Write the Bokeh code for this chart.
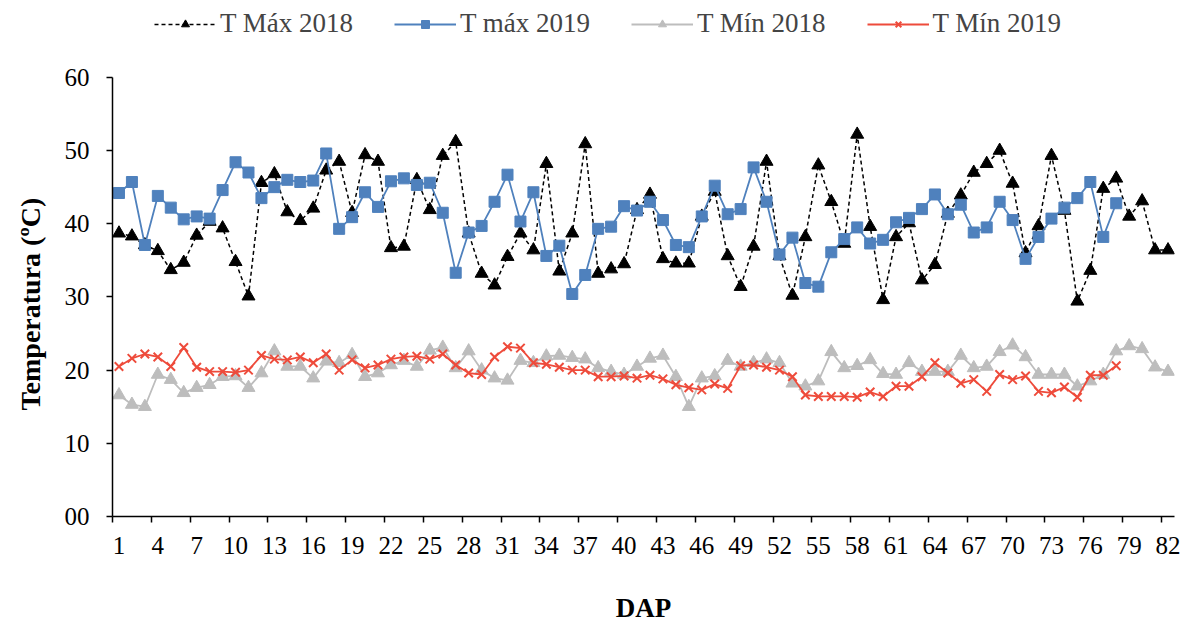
from bokeh.plotting import figure
from bokeh.models import Range1d, FixedTicker, Legend, LegendItem, Title
from bokeh.embed import file_html
from bokeh.resources import INLINE

# Days after planting (DAP)
dap = list(range(1, 83))

# Daily temperatures (ºC)
t_max_2018 = [
    38.7, 38.3, 37.1, 36.3, 33.7, 34.7, 38.4, 40.3, 39.4, 34.8,
    30.1, 45.6, 46.8, 41.6, 40.4, 42.1, 47.3, 48.5, 41.5, 49.4,
    48.5, 36.7, 36.9, 46.0, 41.9, 49.3, 51.2, 38.7, 33.2, 31.6,
    35.5, 38.7, 36.4, 48.2, 33.5, 38.7, 50.9, 33.2, 33.8, 34.5,
    41.9, 44.0, 35.2, 34.6, 34.6, 41.0, 44.4, 35.6, 31.4, 36.9,
    48.5, 35.6, 30.2, 38.2, 48.0, 43.0, 37.3, 52.2, 39.6, 29.6,
    38.2, 40.1, 32.3, 34.4, 41.4, 43.9, 47.0, 48.2, 50.0, 45.5,
    36.0, 39.7, 49.3, 41.8, 29.4, 33.6, 44.8, 46.2, 41.0, 43.1,
    36.4, 36.4,
]
t_max_2019 = [
    44.2, 45.7, 37.1, 43.8, 42.2, 40.6, 41.0, 40.7, 44.6, 48.4,
    47.0, 43.5, 45.0, 46.0, 45.7, 45.9, 49.6, 39.3, 40.9, 44.3,
    42.3, 45.8, 46.2, 45.3, 45.6, 41.5, 33.3, 38.8, 39.7, 43.0,
    46.7, 40.3, 44.3, 35.6, 37.0, 30.4, 33.0, 39.3, 39.6, 42.4,
    41.8, 43.0, 40.5, 37.1, 36.8, 41.0, 45.2, 41.3, 42.0, 47.7,
    43.0, 35.8, 38.1, 31.9, 31.4, 36.1, 37.9, 39.5, 37.3, 37.8,
    40.2, 40.8, 42.0, 44.0, 41.3, 42.6, 38.8, 39.5, 43.0, 40.5,
    35.2, 38.2, 40.7, 42.2, 43.5, 45.7, 38.2, 42.8,
]
t_min_2018 = [
    16.6, 15.3, 15.0, 19.4, 18.7, 16.9, 17.6, 18.0, 19.1, 19.2,
    17.6, 19.6, 22.6, 20.5, 20.5, 18.9, 21.2, 21.0, 22.1, 19.1,
    19.6, 20.7, 21.3, 20.5, 22.7, 23.1, 20.3, 22.6, 20.0, 18.9,
    18.6, 21.3, 21.0, 21.9, 22.0, 21.7, 21.5, 20.3, 19.8, 19.4,
    20.5, 21.6, 22.0, 19.1, 15.0, 18.9, 19.2, 21.3, 20.5, 21.0,
    21.5, 21.0, 18.2, 17.8, 18.5, 22.5, 20.3, 20.6, 21.4, 19.5,
    19.4, 21.0, 19.8, 19.8, 19.8, 22.0, 20.3, 20.5, 22.5, 23.4,
    21.8, 19.4, 19.4, 19.4, 17.8, 18.5, 19.4, 22.6, 23.3, 22.9,
    20.4, 19.8,
]
t_min_2019 = [
    20.5, 21.6, 22.2, 21.8, 20.5, 23.1, 20.4, 19.8, 19.8, 19.7,
    20.0, 22.0, 21.5, 21.4, 21.8, 21.0, 22.2, 20.0, 21.4, 20.3,
    20.7, 21.5, 21.8, 21.9, 21.5, 22.2, 20.7, 19.6, 19.4, 21.8,
    23.2, 23.0, 21.0, 20.8, 20.4, 20.0, 20.0, 19.1, 19.1, 19.2,
    18.9, 19.3, 18.8, 18.0, 17.6, 17.3, 18.1, 17.5, 20.6, 20.7,
    20.4, 20.0, 19.1, 16.6, 16.4, 16.4, 16.4, 16.3, 17.0, 16.4,
    17.8, 17.8, 19.1, 21.0, 19.6, 18.2, 18.7, 17.1, 19.4, 18.7,
    19.2, 17.1, 16.9, 17.7, 16.3, 19.3, 19.3, 20.6,
]

y_ticks = [0, 10, 20, 30, 40, 50, 60]
x_tick_days = dap[::3]

FONT = "Liberation Serif"
BLUE = "#4F81BD"
GRAY = "#BDBDBD"
RED = "#EE4B3B"

W, H = 1183, 625
FRAME_BOTTOM = 108          # space for the DAP axis
AXIS_TOP_PX = 77            # screen y of the 60 ºC tick
frame_h = H - FRAME_BOTTOM
y_top = y_ticks[-1] * frame_h / (frame_h - AXIS_TOP_PX)   # headroom for the legend row

p = figure(
    width=W, height=H,
    output_backend="svg", toolbar_location=None,
    x_range=Range1d(0.5, len(dap) + 0.5), y_range=Range1d(0, y_top),
    min_border_left=111, min_border_right=9,
    min_border_top=0, min_border_bottom=FRAME_BOTTOM,
)
p.outline_line_color = None
p.xgrid.visible = False
p.ygrid.visible = False
p.background_fill_color = "white"
p.border_fill_color = "white"

n19 = len(t_max_2019)

l1 = p.line(dap, t_max_2018, line_color="black", line_width=1.5, line_dash="4 3")
s1 = p.scatter(dap, t_max_2018, marker="triangle", size=13,
               fill_color="black", line_color="black")

l2 = p.line(dap[:n19], t_max_2019, line_color=BLUE, line_width=1.8)
s2 = p.scatter(dap[:n19], t_max_2019, marker="square", size=11,
               fill_color=BLUE, line_color=BLUE)

l3 = p.line(dap, t_min_2018, line_color=GRAY, line_width=1.8)
s3 = p.scatter(dap, t_min_2018, marker="triangle", size=13,
               fill_color=GRAY, line_color=GRAY)

l4 = p.line(dap[:n19], t_min_2019, line_color=RED, line_width=1.8)
s4 = p.scatter(dap[:n19], t_min_2019, marker="x", size=12,
               line_color=RED, line_width=2)

# legend row across the top (offsets in px from the frame's bottom-left)
legend = Legend(
    items=[
        LegendItem(label="T Máx 2018", renderers=[l1, s1]),
        LegendItem(label="T máx 2019", renderers=[l2, s2]),
        LegendItem(label="T Mín 2018", renderers=[l3, s3]),
        LegendItem(label="T Mín 2019", renderers=[l4, s4]),
    ],
    orientation="horizontal",
    location=(42, frame_h - 40),
    glyph_width=62, glyph_height=20,
    label_standoff=4, spacing=41,
    label_text_font=FONT, label_text_font_size="27px",
    border_line_color=None, background_fill_alpha=0,
    padding=0, margin=0,
)
p.add_layout(legend, "center")

# x axis: labels centred on every third day, tick marks between categories
p.xaxis.ticker = FixedTicker(ticks=x_tick_days,
                             minor_ticks=[d - 0.5 for d in x_tick_days])
p.xaxis.major_tick_line_color = None
p.xaxis.major_tick_out = 6
p.xaxis.major_tick_in = 0
p.xaxis.minor_tick_out = 6
p.xaxis.minor_tick_in = 0
p.xaxis.minor_tick_line_color = "black"
p.xaxis.minor_tick_line_width = 1.5
p.xaxis.major_label_standoff = 14
p.xaxis.axis_label = "DAP"
p.xaxis.axis_label_standoff = 36
p.xaxis.axis_label_text_font = FONT
p.xaxis.axis_label_text_font_size = "27px"
p.xaxis.axis_label_text_font_style = "bold"
p.xaxis.axis_label_text_color = "black"

# y axis drawn only from 0 to 60 ºC
p.yaxis.ticker = FixedTicker(ticks=y_ticks, minor_ticks=[])
p.yaxis.bounds = (y_ticks[0], y_ticks[-1])
p.yaxis.major_label_overrides = {0: "00"}
p.yaxis.major_tick_out = 6
p.yaxis.major_tick_in = 0
p.yaxis.major_label_standoff = 17

for ax in (p.xaxis, p.yaxis):
    ax.axis_line_color = "black"
    ax.axis_line_width = 1.5
    ax.major_tick_line_width = 1.5
    ax.major_label_text_font = FONT
    ax.major_label_text_font_size = "25px"
    ax.major_label_text_color = "black"

# y title centred on the 0–60 ºC span
y_title = Title(text="Temperatura (ºC)", align="left", offset=106,
                vertical_align="top",
                text_font=FONT, text_font_size="28px", text_font_style="bold",
                text_color="black", standoff=28)
p.add_layout(y_title, "left")

open("out.html", "w").write(file_html(p, INLINE))
